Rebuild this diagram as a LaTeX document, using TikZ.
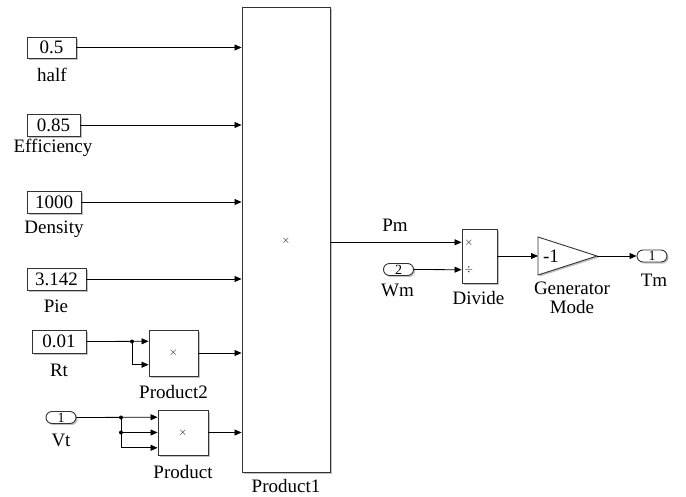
\documentclass[tikz,border=0pt]{standalone}
\usepackage{fontspec}
\setmainfont{Liberation Serif}
\usetikzlibrary{arrows.meta,shadows,calc}
\begin{document}
\begin{tikzpicture}[x=1pt,y=-1pt,
 lbl/.style={font=\fontsize{19}{21}\selectfont, inner sep=0pt},
 shd/.style={drop shadow={shadow xshift=1.6pt, shadow yshift=-1.6pt, fill=black!40, opacity=0.6}},
 blk/.style={draw=black!80, line width=0.9pt, fill=white, inner sep=0pt, font=\fontsize{19}{21}\selectfont, shd},
 port/.style={blk, rounded corners=6pt, minimum width=30pt, minimum height=12pt, font=\fontsize{14}{14}\selectfont},
 sig/.style={line width=0.8pt, -{Triangle[length=7pt,width=6pt]}},
 dot/.style={circle, fill=black, inner sep=0pt, minimum size=4pt},
 sm/.style={font=\fontsize{11}{11}\selectfont, inner sep=0pt}]
\useasboundingbox (0,0) rectangle (686,496);

% big product block
\node[blk, minimum width=88pt, minimum height=465pt] (P1) at (286,240) {};
\node[sm] (P1x) at (286,241) {$\times$};
\node[lbl] (P1l) at (286,485.5) {Product1};

% constants
\node[blk, minimum width=49pt, minimum height=21pt] (c1) at (51.5,47.5) {0.5};
\node[lbl] (c1l) at (52,75) {half};
\node[blk, minimum width=53pt, minimum height=22pt] (c2) at (53.5,125) {0.85};
\node[lbl] (c2l) at (53,148) {Efficiency};
\node[blk, minimum width=54pt, minimum height=22pt] (c3) at (54,202) {1000};
\node[lbl] (c3l) at (54,229) {Density};
\node[blk, minimum width=59pt, minimum height=22pt] (c4) at (56.5,279) {3.142};
\node[lbl] (c4l) at (56,306) {Pie};
\node[blk, minimum width=54pt, minimum height=23pt] (c5) at (59,341.5) {0.01};
\node[lbl] (c5l) at (59,370) {Rt};

\draw[sig] (c1.east) -- (c1.east -| P1.west);
\draw[sig] (c2.east) -- (c2.east -| P1.west);
\draw[sig] (c3.east) -- (c3.east -| P1.west);
\draw[sig] (c4.east) -- (c4.east -| P1.west);

% Product2
\node[blk, minimum width=49pt, minimum height=46pt] (P2) at (173.5,353) {};
\node[sm] (P2x) at (173.5,353) {$\times$};
\node[lbl] (P2l) at (173.5,392) {Product2};
\coordinate (P2a) at ($(P2.north west)!0.25!(P2.south west)$);
\coordinate (P2b) at ($(P2.north west)!0.75!(P2.south west)$);
\node[dot] (J1) at (132,341.5) {};
\draw[sig] (c5.east) -- (P2a);
\draw[sig] (J1.center) |- (P2b);
\draw[sig] (P2.east) -- (P2.east -| P1.west);

% Product
\node[blk, minimum width=50pt, minimum height=45pt] (P) at (183,432.5) {};
\node[sm] (Px) at (183,432.5) {$\times$};
\node[lbl] (Pl) at (183,472) {Product};
\coordinate (Pa) at ($(P.north west)!1/6!(P.south west)$);
\coordinate (Pc) at ($(P.north west)!5/6!(P.south west)$);
\node[port] (Vt) at (61,417.5) {1};
\node[lbl] (Vtl) at (61,440) {Vt};
\node[dot] (J2) at (121,417.5) {};
\node[dot] (J3) at (121,432.5) {};
\draw[sig] (Vt.east) -- (Pa);
\draw[sig] (J2.center) |- (P.west);
\draw[sig] (J3.center) |- (Pc);
\draw[sig] (P.east) -- (P.east -| P1.west);

% Divide
\node[blk, minimum width=35pt, minimum height=54pt] (D) at (479.5,256) {};
\coordinate (Da) at ($(D.north west)!0.25!(D.south west)$);
\coordinate (Db) at ($(D.north west)!0.75!(D.south west)$);
\node[sm] (Dx) at (469,243) {$\times$};
\node[sm] (Dd) at (469,270) {$\div$};
\node[lbl] (Dl) at (478.5,298) {Divide};
\draw[sig] (P1.east |- Da) -- (Da);
\node[lbl] (Pm) at (395,225) {Pm};
\node[port] (Wm) at (398.5,269.5) {2};
\node[lbl] (Wml) at (397.5,290) {Wm};
\draw[sig] (Wm.east) -- (Db);

% Gain
\coordinate (Gin) at (538,256);
\coordinate (Gout) at (597,256);
\filldraw[draw=black!80, line width=0.9pt, fill=white, shd] (538,237) -- (Gout) -- (538,275) -- cycle;
\node[lbl] (Gt) at (551,256) {-1};
\node[lbl] (Gl1) at (572,288) {Generator};
\node[lbl] (Gl2) at (572,307) {Mode};
\draw[sig] (D.east) -- (Gin);

% Outport
\node[port] (Tm) at (652,256) {1};
\node[lbl] (Tml) at (654,280) {Tm};
\draw[sig] (Gout) -- (Tm.west);
\end{tikzpicture}
\end{document}
